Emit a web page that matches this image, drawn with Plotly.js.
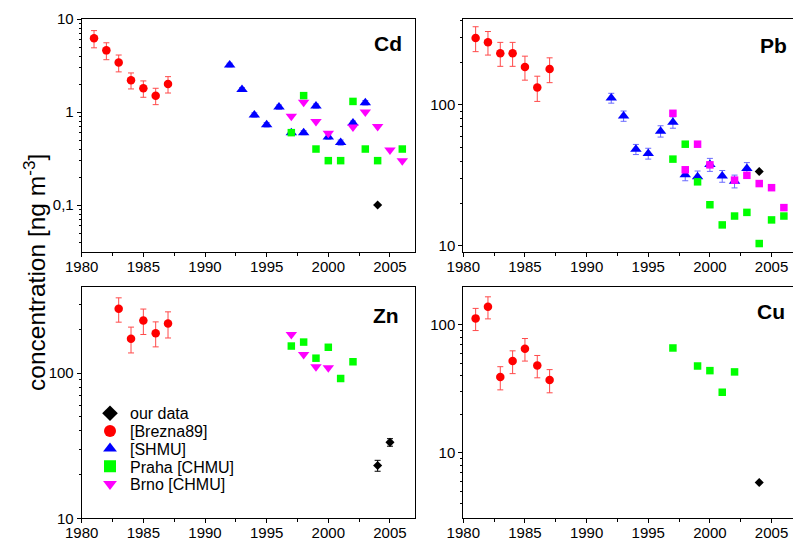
<!DOCTYPE html>
<html>
<head>
<meta charset="utf-8">
<script src="https://cdn.plot.ly/plotly-3.0.1.min.js"></script>
<style>html,body{margin:0;padding:0;background:#fff;}#chart{width:793px;height:542px;}</style>
</head>
<body>
<div id="chart"></div>
<script>
// ---------- DATA ----------
// Cd
var cdOurYears = [2004];
var cdOurVals = [0.1];
var cdBreznaYears = [1981, 1982, 1983, 1984, 1985, 1986, 1987];
var cdBreznaVals = [6.2, 4.6, 3.4, 2.2, 1.8, 1.5, 2.0];
var cdBreznaErr = [1.3, 0.95, 0.7, 0.43, 0.36, 0.3, 0.4];
var cdShmuYears = [1992, 1993, 1994, 1995, 1996, 1997, 1998, 1999, 2000, 2001, 2002, 2003];
var cdShmuVals = [3.2, 1.75, 0.93, 0.73, 1.13, 0.6, 0.6, 1.16, 0.54, 0.47, 0.76, 1.26];
var cdShmuErr = [0.15, 0.08, 0.05, 0.04, 0.06, 0.03, 0.03, 0.06, 0.03, 0.03, 0.04, 0.07];
var cdPrahaYears = [1997, 1998, 1999, 2000, 2001, 2002, 2003, 2004, 2006];
var cdPrahaVals = [0.6, 1.5, 0.4, 0.3, 0.3, 1.3, 0.4, 0.3, 0.4];
var cdBrnoYears = [1997, 1998, 1999, 2000, 2002, 2003, 2004, 2005, 2006];
var cdBrnoVals = [0.9, 1.27, 0.79, 0.59, 0.69, 1.0, 0.7, 0.39, 0.3];
// Pb
var pbOurYears = [2004];
var pbOurVals = [33.7];
var pbBreznaYears = [1981, 1982, 1983, 1984, 1985, 1986, 1987];
var pbBreznaVals = [299, 279, 233, 233, 186, 133, 180];
var pbBreznaErr = [60, 53, 45, 45, 36, 27, 36];
var pbShmuYears = [1992, 1993, 1994, 1995, 1996, 1997, 1998, 1999, 2000, 2001, 2002, 2003];
var pbShmuVals = [112, 83.6, 48.5, 45.3, 65.2, 75.4, 32, 31, 37.8, 31.3, 28.8, 35.5];
var pbShmuErr = [9, 7, 4, 4, 6, 7, 3, 3, 4, 3, 3, 3.5];
var pbPrahaYears = [1997, 1998, 1999, 2000, 2001, 2002, 2003, 2004, 2005, 2006];
var pbPrahaVals = [41.3, 52.7, 28.5, 19.6, 14.1, 16.3, 17.3, 10.4, 15.3, 16.3];
var pbBrnoYears = [1997, 1998, 1999, 2000, 2002, 2003, 2004, 2005, 2006];
var pbBrnoVals = [87.3, 34.7, 52.7, 37.6, 29.3, 31.7, 27.7, 25.9, 18.7];
// Zn
var znOurYears = [2004, 2005];
var znOurVals = [23.1, 33.4];
var znOurErr = [2, 2];
var znBreznaYears = [1983, 1984, 1985, 1986, 1987];
var znBreznaVals = [278, 173, 231, 189, 220];
var znBreznaErr = [53, 35, 46, 37, 45];
var znPrahaYears = [1997, 1998, 1999, 2000, 2001, 2002];
var znPrahaVals = [154, 164, 127, 151, 92, 120];
var znBrnoYears = [1997, 1998, 1999, 2000];
var znBrnoVals = [185, 134.5, 111, 109];
// Cu
var cuOurYears = [2004];
var cuOurVals = [5.87];
var cuBreznaYears = [1981, 1982, 1983, 1984, 1985, 1986, 1987];
var cuBreznaVals = [112, 138, 39, 52, 65, 48, 37];
var cuBreznaErr = [22, 27, 8, 10.5, 13, 9.5, 7.6];
var cuPrahaYears = [1997, 1999, 2000, 2001, 2002];
var cuPrahaVals = [65.8, 47.6, 43.8, 29.7, 42.8];

// tick labels
var xTickVals = [1980, 1985, 1990, 1995, 2000, 2005];
var xTickText = ['1980', '1985', '1990', '1995', '2000', '2005'];
var cdTickVals = [0.1, 1, 10];
var cdTickText = ['0,1', '1', '10'];
var decTickVals = [10, 100];
var decTickText = ['10', '100'];
var seriesNames = ['our data', '[Brezna89]', '[SHMU]', 'Praha [CHMU]', 'Brno [CHMU]'];
var panelLabels = ['Cd', 'Pb', 'Zn', 'Cu'];

// ---------- STYLE ----------
var FONT = 'Arial, "Liberation Sans", sans-serif';
var RED = '#ff0000', BLUE = '#0000ff', GREEN = '#00ff00', MAG = '#ff00ff', BLACK = '#000000';
var SZ = {circle: 8.5, tri: 10, square: 7.5, diamond: 7};

function errBar(arr, color) {
  return {type: 'data', array: arr, symmetric: true, color: color, thickness: 1, width: 3, visible: true};
}
function tr(xs, ys, ax, name, color, symbol, size, leg, err) {
  var t = {
    x: xs, y: ys, type: 'scatter', mode: 'markers', name: name,
    xaxis: 'x' + (ax === 1 ? '' : ax), yaxis: 'y' + (ax === 1 ? '' : ax),
    marker: {color: color, symbol: symbol, size: size, line: {width: 0}},
    showlegend: !!leg, cliponaxis: false
  };
  if (leg) t.legend = leg;
  if (err) t.error_y = err;
  return t;
}

var data = [
  // Cd (legend entries)
  tr(cdOurYears, cdOurVals, 1, seriesNames[0], BLACK, 'diamond', SZ.diamond, 'legend'),
  tr(cdBreznaYears, cdBreznaVals, 1, seriesNames[1], RED, 'circle', SZ.circle, 'legend2', errBar(cdBreznaErr, '#ff4a4a')),
  tr(cdShmuYears, cdShmuVals, 1, seriesNames[2], BLUE, 'triangle-up', SZ.tri, 'legend3', errBar(cdShmuErr, '#6a6aff')),
  tr(cdPrahaYears, cdPrahaVals, 1, seriesNames[3], GREEN, 'square', SZ.square, 'legend4'),
  tr(cdBrnoYears, cdBrnoVals, 1, seriesNames[4], MAG, 'triangle-down', SZ.tri, 'legend5'),
  // Pb
  tr(pbBreznaYears, pbBreznaVals, 2, seriesNames[1], RED, 'circle', SZ.circle, null, errBar(pbBreznaErr, '#ff4a4a')),
  tr(pbShmuYears, pbShmuVals, 2, seriesNames[2], BLUE, 'triangle-up', SZ.tri, null, errBar(pbShmuErr, '#6a6aff')),
  tr(pbPrahaYears, pbPrahaVals, 2, seriesNames[3], GREEN, 'square', SZ.square, null),
  tr(pbBrnoYears, pbBrnoVals, 2, seriesNames[4], MAG, 'square', SZ.square, null),
  tr(pbOurYears, pbOurVals, 2, seriesNames[0], BLACK, 'diamond', SZ.diamond, null),
  // Zn
  tr(znBreznaYears, znBreznaVals, 3, seriesNames[1], RED, 'circle', SZ.circle, null, errBar(znBreznaErr, '#ff4a4a')),
  tr(znPrahaYears, znPrahaVals, 3, seriesNames[3], GREEN, 'square', SZ.square, null),
  tr(znBrnoYears, znBrnoVals, 3, seriesNames[4], MAG, 'triangle-down', SZ.tri, null),
  tr(znOurYears, znOurVals, 3, seriesNames[0], BLACK, 'diamond', SZ.diamond, null, errBar(znOurErr, '#000000')),
  // Cu
  tr(cuBreznaYears, cuBreznaVals, 4, seriesNames[1], RED, 'circle', SZ.circle, null, errBar(cuBreznaErr, '#ff4a4a')),
  tr(cuPrahaYears, cuPrahaVals, 4, seriesNames[3], GREEN, 'square', SZ.square, null),
  tr(cuOurYears, cuOurVals, 4, seriesNames[0], BLACK, 'diamond', SZ.diamond, null)
];

// minor tick positions (axis decoration)
var xMinor = [];
for (var yy = 1982.5; yy < 2008; yy += 5) xMinor.push(yy);
var yMinor = [];
for (var e = -2; e <= 3; e++) for (var d = 2; d <= 9; d++) yMinor.push(d * Math.pow(10, e));

var W = 793, H = 542;
function px(x) { return x / W; }
function py(y) { return 1 - y / H; }

function xAxis(domain, anchor, range) {
  return {
    domain: domain, anchor: anchor, range: range, type: 'linear',
    tickmode: 'array', tickvals: xTickVals, ticktext: xTickText,
    ticks: 'outside', ticklen: 4, tickwidth: 1, tickcolor: '#000', ticklabelstandoff: -3,
    minor: {tickmode: 'array', tickvals: xMinor, ticks: 'outside', ticklen: 3, tickcolor: '#000', showgrid: false},
    showline: true, linecolor: '#000', linewidth: 1, mirror: true,
    showgrid: false, zeroline: false,
    tickfont: {family: FONT, size: 15, color: '#000'}, fixedrange: true
  };
}
function yAxis(domain, anchor, range, tv, tt, mirror) {
  return {
    domain: domain, anchor: anchor, range: range, type: 'log',
    tickmode: 'array', tickvals: tv, ticktext: tt,
    ticks: 'outside', ticklen: 4, tickwidth: 1, tickcolor: '#000',
    minor: {tickmode: 'array', tickvals: yMinor, ticks: 'outside', ticklen: 2, tickcolor: '#000', showgrid: false},
    showline: true, linecolor: '#000', linewidth: 1, mirror: mirror,
    showgrid: false, zeroline: false,
    tickfont: {family: FONT, size: 15, color: '#000'}, fixedrange: true
  };
}

var leftX = [px(81.7), px(415)];
var rightX = [px(463.3), 1];
var topY = [py(252), py(19)];
var botY = [py(518.3), py(286.5)];

var annotations = [
  {text: 'concentration [ng m<sup>-3</sup>]', x: px(34), y: py(273), xref: 'paper', yref: 'paper',
   textangle: -90, showarrow: false, xanchor: 'center', yanchor: 'middle',
   font: {family: FONT, size: 24.5, color: '#000'}}
];
var labelPos = [[387.7, 43], [773.3, 46], [386, 315.5], [771, 311]];
for (var i = 0; i < panelLabels.length; i++) {
  annotations.push({text: '<b>' + panelLabels[i] + '</b>', x: px(labelPos[i][0]), y: py(labelPos[i][1]),
    xref: 'paper', yref: 'paper', showarrow: false, xanchor: 'center', yanchor: 'middle',
    font: {family: FONT, size: 21, color: '#000'}});
}

function legendAt(yc) {
  return {x: px(90), y: py(yc), xanchor: 'left', yanchor: 'middle', bgcolor: 'rgba(0,0,0,0)',
    borderwidth: 0, itemsizing: 'constant', font: {family: FONT, size: 16, color: '#000'}};
}
var legendRows = [413.3, 431, 448.7, 466.4, 484.1];

var layout = {
  width: W, height: H, margin: {l: 0, r: 0, t: 0, b: 0, pad: 0},
  paper_bgcolor: '#fff', plot_bgcolor: '#fff',
  showlegend: true,
  legend: legendAt(legendRows[0]),
  legend2: legendAt(legendRows[1]),
  legend3: legendAt(legendRows[2]),
  legend4: legendAt(legendRows[3]),
  legend5: legendAt(legendRows[4]),
  xaxis: xAxis(leftX, 'y', [1980, 2007.03]),
  yaxis: yAxis(topY, 'x', [-1.505, 1], cdTickVals, cdTickText, true),
  xaxis2: xAxis(rightX, 'y2', [1980, 2006.74]),
  yaxis2: yAxis(topY, 'x2', [0.957, 2.61], decTickVals, decTickText, false),
  xaxis3: xAxis(leftX, 'y3', [1980, 2007.03]),
  yaxis3: yAxis(botY, 'x3', [1, 2.598], decTickVals, decTickText, true),
  xaxis4: xAxis(rightX, 'y4', [1980, 2006.74]),
  yaxis4: yAxis(botY, 'x4', [0.489, 2.298], decTickVals, decTickText, false),
  annotations: annotations
};

Plotly.newPlot('chart', data, layout, {staticPlot: true, displayModeBar: false});
</script>
</body>
</html>
